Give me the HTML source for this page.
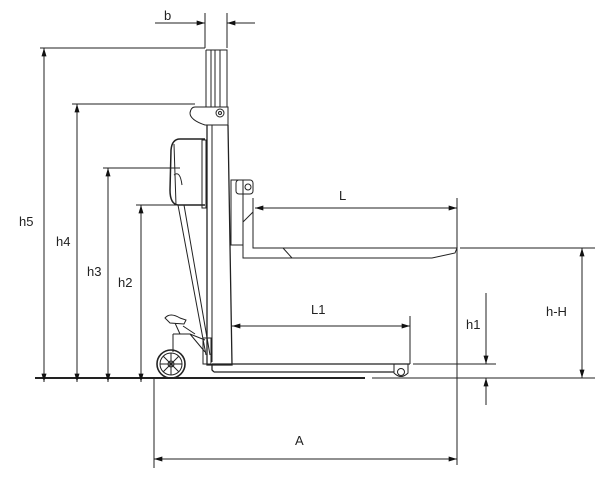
<!DOCTYPE html>
<html><head><style>body{margin:0;background:#fff}svg{display:block}text{font-family:"Liberation Sans",sans-serif;font-size:13px;fill:#222}</style></head>
<body>
<svg width="616" height="492" viewBox="0 0 616 492" xmlns="http://www.w3.org/2000/svg">
<defs>
<marker id="a" viewBox="0 0 10 6" refX="10" refY="3" markerWidth="10" markerHeight="5" orient="auto-start-reverse" markerUnits="userSpaceOnUse"><path d="M0,0L10,3L0,6z" fill="#111"/></marker>
</defs>
<g stroke="#222" fill="none" stroke-width="1">
<line x1="35" y1="378" x2="365" y2="378" stroke-width="2"/>
<line x1="372" y1="378" x2="595" y2="378"/>
<line x1="40" y1="48" x2="205" y2="48"/>
<line x1="44" y1="48" x2="44" y2="382" marker-start="url(#a)" marker-end="url(#a)"/>
<line x1="72" y1="104" x2="195" y2="104"/>
<line x1="77" y1="104" x2="77" y2="382" marker-start="url(#a)" marker-end="url(#a)"/>
<line x1="103" y1="168" x2="180" y2="168"/>
<line x1="108" y1="168" x2="108" y2="382" marker-start="url(#a)" marker-end="url(#a)"/>
<line x1="136" y1="205" x2="178" y2="205"/>
<line x1="141" y1="205" x2="141" y2="382" marker-start="url(#a)" marker-end="url(#a)"/>
<line x1="205" y1="13" x2="205" y2="48"/>
<line x1="227" y1="13" x2="227" y2="48"/>
<line x1="155" y1="23" x2="205" y2="23" marker-end="url(#a)"/>
<line x1="255" y1="23" x2="227" y2="23" marker-end="url(#a)"/>
<!-- mast -->
<path d="M206,50 L227,50 L227,107 M206,50 L206,107 M211,50 L211,107 M215,50 L215,107 M220,50 L220,107"/>
<path d="M207,125 L207,365 L232,365 L228,125" stroke-width="1.3"/>
<path d="M212,125 L212,362"/>
<path d="M195,107 L228,107 L228,125 L205,125 Q190,120 190,113 Q191,107 195,107z" fill="#fff"/>
<circle cx="220" cy="113" r="4"/>
<circle cx="220" cy="113" r="1.5"/>
<!-- handle -->
<path d="M205,139 L180,139 Q172,139 171,150 L170,190 Q170,204 178,205 L205,205" stroke-width="1.5"/>
<path d="M174,144 L176,205 M174,175 Q180,170 182,185"/>
<path d="M178,205 L206,355 M184,205 L210,355"/>
<rect x="202" y="140" width="4" height="68"/>
<!-- carriage -->
<rect x="231" y="180" width="12" height="65"/>
<rect x="236" y="180" width="17" height="14" rx="3"/>
<circle cx="248" cy="187" r="3"/>
<path d="M253,198 L253,248 L457,248 L455,253 L432,258 L243,258 L243,205"/>
<line x1="283" y1="248" x2="292" y2="258"/>
<line x1="243" y1="222" x2="253" y2="212"/>
<line x1="457" y1="198" x2="457" y2="465"/>
<line x1="255" y1="208" x2="457" y2="208" marker-start="url(#a)" marker-end="url(#a)"/>
<line x1="460" y1="248" x2="595" y2="248"/>
<line x1="582" y1="248" x2="582" y2="378" marker-start="url(#a)" marker-end="url(#a)"/>
<line x1="232" y1="326" x2="410" y2="326" marker-start="url(#a)" marker-end="url(#a)"/>
<line x1="410" y1="316" x2="410" y2="364"/>
<!-- base leg -->
<path d="M212,364 L410,364 M214,372 L394,372 M212,364 L212,370 L214,372" stroke-width="1.3"/>
<path d="M394,364 L394,373 Q401,380 408,373 L408,364"/>
<circle cx="401" cy="372" r="3.5"/>
<line x1="413" y1="364" x2="496" y2="364"/>
<line x1="486" y1="293" x2="486" y2="364" marker-end="url(#a)"/>
<line x1="486" y1="405" x2="486" y2="378" marker-end="url(#a)"/>
<line x1="154" y1="378" x2="154" y2="468"/>
<line x1="154" y1="459" x2="457" y2="459" marker-start="url(#a)" marker-end="url(#a)"/>
<!-- wheel -->
<circle cx="171" cy="364" r="14" stroke-width="1.6"/>
<circle cx="171" cy="364" r="11"/>
<circle cx="171" cy="364" r="3"/>
<path d="M171,353 L171,375 M160,364 L182,364 M163,356 L179,372 M179,356 L163,372"/>
<path d="M173,334 L190,334 L205,340 M173,334 L173,352 M190,334 L205,352 M165,318 Q170,312 180,318 L186,320 L184,324 L170,323z M175,323 L180,334 M183,326 L195,334"/>
<rect x="203" y="338" width="8" height="26"/>
</g>
<text x="164" y="20">b</text>
<text x="19" y="226">h5</text>
<text x="56" y="246">h4</text>
<text x="87" y="276">h3</text>
<text x="118" y="287">h2</text>
<text x="339" y="200">L</text>
<text x="311" y="314">L1</text>
<text x="466" y="329">h1</text>
<text x="546" y="316">h-H</text>
<text x="295" y="445">A</text>
</svg>
</body></html>
